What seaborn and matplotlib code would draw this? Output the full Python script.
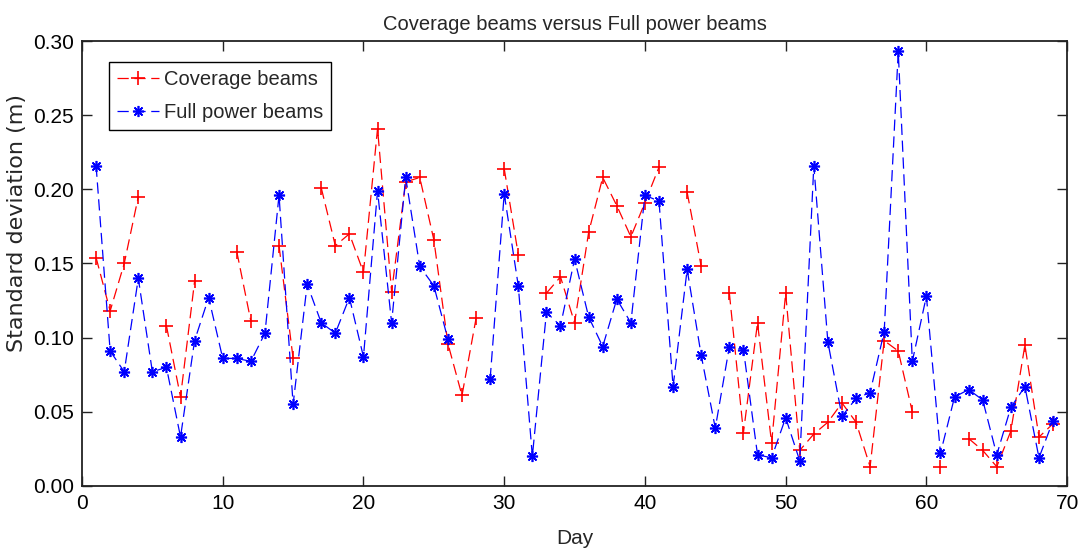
import numpy as np
import pandas as pd
import matplotlib
matplotlib.use("Agg")
import matplotlib.pyplot as plt
from matplotlib.lines import Line2D
from matplotlib.ticker import FormatStrFormatter, MultipleLocator
import seaborn as sns

nan = np.nan
days = list(range(1, 70))

coverage = [0.154, 0.118, 0.150, 0.195, nan, 0.108, 0.060, 0.138, nan, nan,
            0.158, 0.111, nan, 0.162, 0.086, nan, 0.201, 0.162, 0.170, 0.144,
            0.241, 0.131, 0.205, 0.208, 0.166, 0.096, 0.061, 0.113, nan, 0.214,
            0.156, nan, 0.130, 0.141, 0.110, 0.171, 0.208, 0.189, 0.168, 0.191,
            0.215, nan, 0.198, 0.148, nan, 0.130, 0.036, 0.110, 0.029, 0.130,
            0.024, 0.035, 0.043, 0.056, 0.043, 0.013, 0.098, 0.091, 0.050, nan,
            0.013, nan, 0.032, 0.024, 0.013, 0.037, 0.095, 0.033, 0.042]

full_power = [0.216, 0.091, 0.077, 0.140, 0.077, 0.080, 0.033, 0.098, 0.127, 0.086,
              0.086, 0.084, 0.103, 0.196, 0.055, 0.136, 0.110, 0.103, 0.127, 0.087,
              0.199, 0.110, 0.208, 0.148, 0.135, 0.099, nan, nan, 0.072, 0.197,
              0.135, 0.020, 0.117, 0.108, 0.153, 0.114, 0.094, 0.126, 0.110, 0.196,
              0.192, 0.067, 0.146, 0.088, 0.039, 0.094, 0.092, 0.021, 0.019, 0.046,
              0.017, 0.216, 0.097, 0.047, 0.059, 0.063, 0.104, 0.293, 0.084, 0.128,
              0.022, 0.060, 0.065, 0.058, 0.021, 0.053, 0.067, 0.019, 0.044]

series_names = ["Coverage beams", "Full power beams"]
x_ticks = [0, 10, 20, 30, 40, 50, 60, 70]


def segments(values):
    seg = []
    sid = 0
    prev_nan = True
    for v in values:
        if np.isnan(v):
            seg.append(-1)
            prev_nan = True
        else:
            if prev_nan:
                sid += 1
            seg.append(sid)
            prev_nan = False
    return seg


df_cov = pd.DataFrame({"Day": days, "value": coverage, "seg": segments(coverage)})
df_cov = df_cov[df_cov["seg"] >= 0]
df_full = pd.DataFrame({"Day": days, "value": full_power, "seg": segments(full_power)})
df_full = df_full[df_full["seg"] >= 0]

sns.set_style("ticks")
plt.rcParams["font.family"] = ["Liberation Sans", "DejaVu Sans"]

fig = plt.figure(figsize=(10.79, 5.49), dpi=100)
ax = fig.add_axes([0.076, 0.1148, 0.913, 0.8105])

red = "#ff0000"
blue = "#0000ff"
asterisk = (8, 2, 0)
dash = (0, (9, 4.5))

sns.lineplot(data=df_cov, x="Day", y="value", units="seg", estimator=None,
             sort=False, color=red, linestyle=dash, linewidth=0.9,
             marker="+", markersize=10, markeredgewidth=1.2,
             markeredgecolor=red, ax=ax, legend=False)
sns.lineplot(data=df_full, x="Day", y="value", units="seg", estimator=None,
             sort=False, color=blue, linestyle=dash, linewidth=0.9,
             marker=asterisk, markersize=8, markeredgewidth=1.2,
             markeredgecolor=blue, ax=ax, legend=False)

ax.set_xlim(0, 70)
ax.set_ylim(0, 0.30)
ax.set_xticks(x_ticks)
ax.yaxis.set_major_locator(MultipleLocator(0.05))
ax.yaxis.set_major_formatter(FormatStrFormatter("%.2f"))
ax.tick_params(direction="in", length=7, width=1.0, top=True, right=True,
               labelsize=15, colors="#222222", labelcolor="black", pad=6)
for s in ax.spines.values():
    s.set_visible(True)
    s.set_color("#222222")
    s.set_linewidth(1.3)

ax.set_title("Coverage beams versus Full power beams", fontsize=14.5, pad=8)
ax.set_ylabel("Standard deviation (m)", fontsize=16, family=["DejaVu Sans"])
ax.yaxis.set_label_coords(-0.056, 0.59)
ax.set_xlabel("Day", fontsize=15, labelpad=11)

handles = [
    Line2D([], [], color=red, linestyle=dash, linewidth=0.9, marker="+",
           markersize=10, markeredgewidth=1.2),
    Line2D([], [], color=blue, linestyle=dash, linewidth=0.9, marker=asterisk,
           markersize=8, markeredgewidth=1.2),
]
leg = ax.legend(handles, series_names, loc="upper left",
                bbox_to_anchor=(0.027, 0.953), borderaxespad=0,
                prop={"size": 14.5},
                frameon=True, fancybox=False, framealpha=1,
                edgecolor="black", handlelength=2.1, handletextpad=0.25,
                labelspacing=0.7, borderpad=0.4)
leg.get_frame().set_linewidth(1.0)

fig.savefig("out.png", dpi=100)
